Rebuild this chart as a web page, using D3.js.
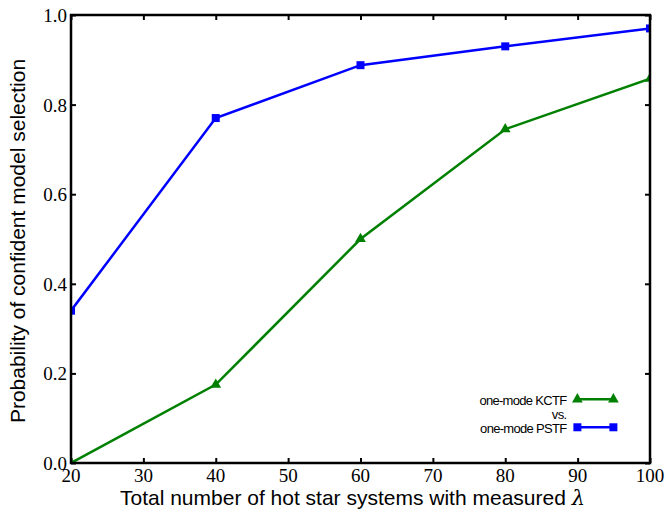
<!DOCTYPE html>
<html>
<head>
<meta charset="utf-8">
<script src="https://cdn.jsdelivr.net/npm/d3@7"></script>
<style>
  body { margin: 0; background: #fff; }
  .lab { font-family: "Liberation Sans", Arial, sans-serif; font-size: 21px; fill: #000; }
  .leg { font-family: "Liberation Sans", Arial, sans-serif; font-size: 13px; fill: #000; letter-spacing: -0.7px; }
  .tl { font-family: "Liberation Serif", "Times New Roman", serif; font-size: 19px; fill: #000; }
</style>
</head>
<body>
<svg id="chart" width="668" height="511"></svg>
<script>
const systems = [20, 40, 60, 80, 100];
const kctf = [0.0, 0.175, 0.50, 0.745, 0.858];
const pstf = [0.34, 0.77, 0.888, 0.93, 0.97];
const xTicks = [20, 30, 40, 50, 60, 70, 80, 90, 100];
const yTicks = [0.0, 0.2, 0.4, 0.6, 0.8, 1.0];

const margin = { top: 15, right: 18, bottom: 48, left: 71 },
  width = 668 - margin.left - margin.right,
  height = 511 - margin.top - margin.bottom;

const svg = d3.select("#chart");
const g = svg.append("g").attr("transform", `translate(${margin.left},${margin.top})`);

const x = d3.scaleLinear().domain([20, 100]).range([0, width]);
const y = d3.scaleLinear().domain([0, 1]).range([height, 0]);

g.append("clipPath").attr("id", "clip")
  .append("rect").attr("width", width).attr("height", height);

// tick marks, pointing inward on all four sides
function styleAxis(sel) {
  sel.select(".domain").remove();
  sel.selectAll(".tick line").attr("stroke", "#000").attr("stroke-width", 2);
}
g.append("g").attr("transform", `translate(0,${height})`)
  .call(d3.axisBottom(x).tickValues(xTicks).tickSizeInner(-5).tickFormat(""))
  .call(styleAxis);
g.append("g")
  .call(d3.axisTop(x).tickValues(xTicks).tickSizeInner(-5).tickFormat(""))
  .call(styleAxis);
g.append("g")
  .call(d3.axisLeft(y).tickValues(yTicks).tickSizeInner(-5).tickFormat(""))
  .call(styleAxis);
g.append("g").attr("transform", `translate(${width},0)`)
  .call(d3.axisRight(y).tickValues(yTicks).tickSizeInner(-5).tickFormat(""))
  .call(styleAxis);

// tick labels
g.selectAll(".xl").data(xTicks).enter().append("text")
  .attr("class", "tl").attr("x", d => x(d)).attr("y", height + 19)
  .attr("text-anchor", "middle").text(d3.format("d"));
g.selectAll(".yl").data(yTicks).enter().append("text")
  .attr("class", "tl").attr("x", -4).attr("y", d => y(d) + 7)
  .attr("text-anchor", "end").text(d3.format(".1f"));

const plot = g.append("g").attr("clip-path", "url(#clip)");

const line = d3.line().x((d, i) => x(systems[i])).y(d => y(d));

const series = [
  { values: kctf, color: "#008000", symbol: d3.symbolTriangle, size: 50 },
  { values: pstf, color: "#0000ff", symbol: d3.symbolSquare, size: 64 }
];

series.forEach(s => {
  plot.append("path").datum(s.values)
    .attr("fill", "none").attr("stroke", s.color).attr("stroke-width", 2.5)
    .attr("d", line);
  plot.selectAll(null).data(s.values).enter().append("path")
    .attr("transform", (d, i) => `translate(${x(systems[i])},${y(d)})`)
    .attr("d", d3.symbol().type(s.symbol).size(s.size))
    .attr("fill", s.color);
});

g.append("rect").attr("width", width).attr("height", height)
  .attr("fill", "none").attr("stroke", "#000").attr("stroke-width", 2.5);

// legend
const leg = g.append("g").attr("transform", `translate(${x(89)},${y(0.14)})`);
const legRows = [
  { text: "one-mode KCTF", dy: 0, s: series[0] },
  { text: "vs.", dy: 14, s: null },
  { text: "one-mode PSTF", dy: 28, s: series[1] }
];
legRows.forEach(r => {
  leg.append("text").attr("class", "leg").attr("x", -4).attr("y", r.dy + 5)
    .attr("text-anchor", "end").text(r.text);
  if (r.s) {
    leg.append("line").attr("x1", 7).attr("x2", 43).attr("y1", r.dy - 1).attr("y2", r.dy - 1)
      .attr("stroke", r.s.color).attr("stroke-width", 2.5);
    [7, 43].forEach(px => leg.append("path")
      .attr("transform", `translate(${px},${r.dy - 1})`)
      .attr("d", d3.symbol().type(r.s.symbol).size(r.s.size))
      .attr("fill", r.s.color));
  }
});

svg.append("text").attr("class", "lab")
  .attr("x", margin.left + width / 2 - 8).attr("y", 505)
  .attr("text-anchor", "middle")
  .text("Total number of hot star systems with measured ")
  .append("tspan").attr("font-family", "'DejaVu Serif', serif").attr("font-style", "italic").text("λ");

svg.append("text").attr("class", "lab")
  .attr("transform", `translate(25,${margin.top + height / 2 + 2}) rotate(-90)`)
  .attr("text-anchor", "middle")
  .text("Probability of confident model selection");
</script>
</body>
</html>
